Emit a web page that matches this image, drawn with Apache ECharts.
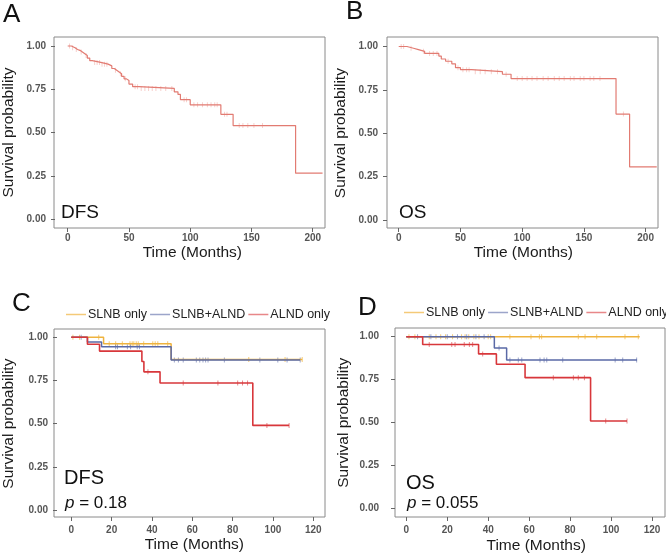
<!DOCTYPE html>
<html>
<head>
<meta charset="utf-8">
<script src="https://cdn.jsdelivr.net/npm/echarts@6/dist/echarts.min.js"></script>
<style>html,body{margin:0;padding:0;background:#fff}#c{width:666px;height:557px}</style>
</head>
<body>
<div id="c"></div>
<script>
// ---------- DATA ----------
// Panel A: DFS, all patients
const A_time = [0, 3, 6, 8, 10, 12, 14, 16, 18, 20, 27, 33, 36, 38, 40, 42, 44, 46, 48, 50, 53, 58, 87, 90, 92, 100, 125, 135, 186];
const A_surv = [1, 0.99, 0.98, 0.975, 0.965, 0.955, 0.945, 0.93, 0.915, 0.905, 0.895, 0.885, 0.87, 0.86, 0.85, 0.84, 0.825, 0.81, 0.80, 0.78, 0.765, 0.755, 0.735, 0.72, 0.69, 0.66, 0.605, 0.54, 0.265];
const A_end = 208;
const A_cens = [1.5, 4, 7, 11, 15, 22, 24, 26, 28, 30, 32, 39, 43, 47, 55, 57, 60, 63, 66, 69, 72, 76, 80, 85, 95, 97, 103, 106, 110, 114, 117, 120, 122, 128, 130, 140, 143, 147, 152, 159];

// Panel B: OS, all patients
const B_time = [0, 6.7, 12, 16, 21, 32.5, 34.5, 38, 43, 46, 50, 59, 84, 91, 176, 187];
const B_surv = [1, 0.99, 0.982, 0.972, 0.96, 0.945, 0.928, 0.915, 0.9, 0.878, 0.866, 0.855, 0.84, 0.815, 0.61, 0.305];
const B_end = 209;
const B_cens = [2, 4, 10, 20, 25, 28, 31, 40, 48, 52, 55, 57, 62, 66, 70, 75, 80, 87, 96, 100, 104, 108, 112, 117, 121, 126, 130, 134, 139, 142, 147, 150, 155, 158, 163, 182];

// Panel C: DFS by group
const groupNames = ['SLNB only', 'SLNB+ALND', 'ALND only'];
const C_slnb_time = [0, 16, 49.5];
const C_slnb_surv = [1, 0.963, 0.872];
const C_slnb_end = 114.5;
const C_slnb_cens = [0.8, 4.1, 13.6, 18.8, 22, 25.3, 29.1, 30.2, 31, 32.2, 33.2, 35.9, 40.4, 41.6, 42.9, 47.8, 88, 106, 114.5];
const C_both_time = [0, 8, 15, 49.5];
const C_both_surv = [1, 0.973, 0.945, 0.869];
const C_both_end = 113.5;
const C_both_cens = [4.9, 22, 22.9, 27.8, 29.4, 32.7, 33.8, 51.1, 53.1, 55.5, 62, 63.7, 65.3, 66.6, 67.8, 75.9, 93.5, 102.4, 107, 113.5];
const C_alnd_time = [0, 8, 14, 35, 36, 44, 90];
const C_alnd_surv = [1, 0.96, 0.92, 0.86, 0.80, 0.735, 0.49];
const C_alnd_end = 108;
const C_alnd_cens = [38, 55.5, 72.7, 82.5, 84.9, 87.4, 97, 108];

// Panel D: OS by group
const D_slnb_time = [0];
const D_slnb_surv = [1];
const D_slnb_end = 114;
const D_slnb_cens = [1.3, 4.2, 11.2, 14.5, 16.8, 19.2, 22.6, 27, 28.7, 30.5, 33, 35.5, 40, 41.2, 50.6, 60.9, 65, 66.1, 84, 87.3, 93, 106.8, 113.3];
const D_both_time = [0, 43, 49];
const D_both_surv = [1, 0.935, 0.865];
const D_both_end = 112.7;
const D_both_cens = [5.5, 12, 20, 25, 29.5, 34, 38, 45.3, 50.6, 54.7, 56.4, 65.3, 67.3, 68.6, 76.4, 102, 105.7, 112.5];
const D_alnd_time = [0, 8, 35.3, 44, 58, 90];
const D_alnd_surv = [1, 0.955, 0.90, 0.84, 0.762, 0.51];
const D_alnd_end = 107.8;
const D_alnd_cens = [11.2, 22.2, 23.8, 28.3, 30.8, 32.4, 37.3, 71.8, 81.6, 84, 87, 97.4, 107.8];

// tick settings
const yMin = 0, yMax = 1, yStep = 0.25;
const xMaxAB = 210, xStepAB = 50;
const xTicksAB = [0, 50, 100, 150, 200];
const xMaxCD = 120, xStepCD = 20;

// ---------- helpers ----------
function stepData(t, s, end) {
  const d = t.map((v, i) => [v, s[i]]);
  d.push([end, s[s.length - 1]]);
  return d;
}
function survAt(t, s, x) {
  let v = s[0];
  for (let i = 0; i < t.length; i++) { if (t[i] <= x) v = s[i]; }
  return v;
}
function censData(t, s, c) { return c.map(x => [x, survAt(t, s, x)]); }

const FONT = "'Liberation Sans', Arial, sans-serif";
const COL_AB = '#e27b72';
const COL_AB_C = '#f7d0cc';
const COLS = ['#efb33e', '#5a69a6', '#d8373b'];

// outer plot boxes (panel borders) and inner data areas
const outer = [
  {left: 54, top: 37, width: 271, height: 191},
  {left: 387, top: 37, width: 271, height: 191},
  {left: 54, top: 329, width: 271, height: 188},
  {left: 395, top: 328, width: 270, height: 189}
];
const inner = [
  {left: 66.7, top: 46, width: 258.3, height: 173},
  {left: 398.7, top: 46.5, width: 259.3, height: 173.3},
  {left: 68.3, top: 337.3, width: 245, height: 172.7},
  {left: 406.3, top: 336.7, width: 245.7, height: 172}
];

function xAxis(i, max, step, margin, gap, offset, namePad, ticks) {
  const tick = {show: true, length: 4, lineStyle: {color: '#666'}};
  if (ticks) tick.customValues = ticks;
  return {
    type: 'value', gridIndex: i, min: 0, max: max, interval: step, offset: offset,
    name: 'Time (Months)', nameLocation: 'middle', nameGap: gap,
    nameTextStyle: {fontFamily: FONT, fontSize: 15.5, color: '#1a1a1a', padding: namePad},
    axisLine: {show: false, onZero: false},
    axisTick: tick,
    axisLabel: {margin: margin, fontFamily: FONT, fontSize: 10, fontWeight: 'bold', color: '#555',
      showMaxLabel: !ticks, formatter: v => (v % step === 0 ? String(v) : '')},
    splitLine: {show: false}
  };
}
function yAxis(i, margin, gap, offset) {
  return {
    type: 'value', gridIndex: i, min: yMin, max: yMax, interval: yStep, offset: offset,
    name: 'Survival probability', nameLocation: 'middle', nameGap: gap,
    nameTextStyle: {fontFamily: FONT, fontSize: 15.5, color: '#1a1a1a'},
    axisLine: {show: false, onZero: false},
    axisTick: {show: true, length: 4, lineStyle: {color: '#666'}},
    axisLabel: {margin: margin, fontFamily: FONT, fontSize: 10, fontWeight: 'bold', color: '#555',
      formatter: v => v.toFixed(2)},
    splitLine: {show: false}
  };
}
function hiddenAxis(i) { return {type: 'value', gridIndex: i, show: false, min: 0, max: 1}; }

function lineS(name, i, data, color, w) {
  return {type: 'line', name: name, xAxisIndex: i, yAxisIndex: i, data: data, step: 'end', clip: false,
    showSymbol: false, symbol: 'none', lineStyle: {color: color, width: w}, itemStyle: {color: color},
    animation: false, silent: true, z: 3};
}
function censS(name, i, data, color, op) {
  return {type: 'scatter', name: name, xAxisIndex: i, yAxisIndex: i, data: data, clip: false,
    symbol: 'rect', symbolSize: [1, 5], itemStyle: {color: color, opacity: op}, animation: false, silent: true, z: 2};
}

const series = [
  censS('A', 0, censData(A_time, A_surv, A_cens), COL_AB_C, 1),
  lineS('A', 0, stepData(A_time, A_surv, A_end), COL_AB, 1.2),
  censS('B', 1, censData(B_time, B_surv, B_cens), COL_AB_C, 1),
  lineS('B', 1, stepData(B_time, B_surv, B_end), COL_AB, 1.2),

  censS(groupNames[0], 2, censData(C_slnb_time, C_slnb_surv, C_slnb_cens), COLS[0], 0.7),
  censS(groupNames[1], 2, censData(C_both_time, C_both_surv, C_both_cens), COLS[1], 0.6),
  censS(groupNames[2], 2, censData(C_alnd_time, C_alnd_surv, C_alnd_cens), COLS[2], 0.6),
  lineS(groupNames[0], 2, stepData(C_slnb_time, C_slnb_surv, C_slnb_end), COLS[0], 1.5),
  lineS(groupNames[1], 2, stepData(C_both_time, C_both_surv, C_both_end), COLS[1], 1.5),
  lineS(groupNames[2], 2, stepData(C_alnd_time, C_alnd_surv, C_alnd_end), COLS[2], 1.6),

  censS(groupNames[0], 3, censData(D_slnb_time, D_slnb_surv, D_slnb_cens), COLS[0], 0.7),
  censS(groupNames[1], 3, censData(D_both_time, D_both_surv, D_both_cens), COLS[1], 0.6),
  censS(groupNames[2], 3, censData(D_alnd_time, D_alnd_surv, D_alnd_cens), COLS[2], 0.6),
  lineS(groupNames[0], 3, stepData(D_slnb_time, D_slnb_surv, D_slnb_end), COLS[0], 1.5),
  lineS(groupNames[1], 3, stepData(D_both_time, D_both_surv, D_both_end), COLS[1], 1.5),
  lineS(groupNames[2], 3, stepData(D_alnd_time, D_alnd_surv, D_alnd_end), COLS[2], 1.6)
];

function legend(left, top) {
  return {
    left: left, top: top, orient: 'horizontal', width: 400, itemGap: 3, itemWidth: 20, itemHeight: 1.5,
    icon: 'rect', selectedMode: false, padding: 0,
    textStyle: {fontFamily: FONT, fontSize: 12.5, color: '#222', padding: [0, 0, 0, -3]},
    data: groupNames.map((n, k) => ({name: n, itemStyle: {color: COLS[k]}}))
  };
}

function txt(x, y, text, size, extra) {
  return Object.assign({type: 'text', x: x, y: y, silent: true,
    style: Object.assign({text: text, fontFamily: FONT, fontSize: size, fill: '#111', textVerticalAlign: 'middle'}, extra || {})});
}
const richP = {i: {fontStyle: 'italic', fontFamily: FONT, fontSize: 17, fill: '#111'}, n: {fontFamily: FONT, fontSize: 17, fill: '#111'}};

const chart = echarts.init(document.getElementById('c'), null, {renderer: 'canvas'});
chart.setOption({
  animation: false,
  backgroundColor: '#fff',
  grid: inner.map(g => Object.assign({show: false}, g)).concat(
        outer.map(g => Object.assign({show: true, borderColor: '#8a8a8a', borderWidth: 1, backgroundColor: 'transparent'}, g))),
  xAxis: [
    xAxis(0, xMaxAB, xStepAB, 5, 17, 228 - 219, [0, 8, 0, 0], xTicksAB),
    xAxis(1, xMaxAB, xStepAB, 5, 17, 228 - 219.8, [0, 10, 0, 0], xTicksAB),
    xAxis(2, xMaxCD, xStepCD, 8, 20, 517 - 510, [0, 0, 0, 4]),
    xAxis(3, xMaxCD, xStepCD, 8, 21, 517 - 508.7, [0, 0, 0, 14]),
    hiddenAxis(4), hiddenAxis(5), hiddenAxis(6), hiddenAxis(7)
  ],
  yAxis: [
    yAxis(0, 9, 38, 66.7 - 54),
    yAxis(1, 9, 38, 398.7 - 387),
    yAxis(2, 9, 40, 68.3 - 54),
    yAxis(3, 16, 43, 406.3 - 395),
    hiddenAxis(4), hiddenAxis(5), hiddenAxis(6), hiddenAxis(7)
  ],
  legend: [legend(66, 308), legend(404, 306)],
  series: series,
  graphic: [
    txt(3, 15, 'A', 26), txt(346, 12, 'B', 26), txt(12, 304, 'C', 26), txt(358, 307.5, 'D', 26),
    txt(61, 212.5, 'DFS', 19), txt(399, 212.5, 'OS', 19),
    txt(64, 478.5, 'DFS', 20), txt(406, 483.5, 'OS', 20),
    txt(65, 503.5, '{i|p}{n| = 0.18}', 17, {rich: richP}),
    txt(407, 503, '{i|p}{n| = 0.055}', 17, {rich: richP})
  ]
});
</script>
</body>
</html>
